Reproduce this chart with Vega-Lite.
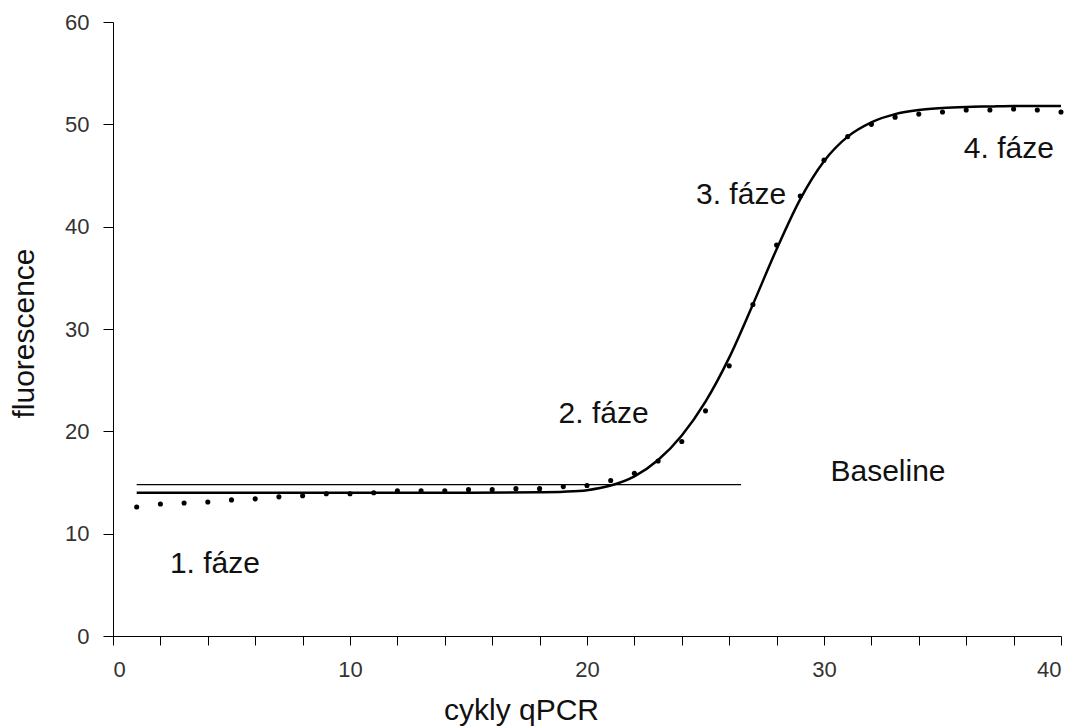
{
  "$schema": "https://vega.github.io/schema/vega-lite/v6.json",
  "autosize": "none",
  "width": 948,
  "height": 614,
  "padding": {"left": 113, "top": 22, "right": 22, "bottom": 90},
  "background": "white",
  "config": {"view": {"stroke": null}, "font": "Liberation Sans"},
  "datasets": {
    "obs": [
      {"cycle": 1, "f": 12.6}, {"cycle": 2, "f": 12.9}, {"cycle": 3, "f": 13.0}, {"cycle": 4, "f": 13.1},
      {"cycle": 5, "f": 13.3}, {"cycle": 6, "f": 13.4}, {"cycle": 7, "f": 13.6}, {"cycle": 8, "f": 13.7},
      {"cycle": 9, "f": 13.9}, {"cycle": 10, "f": 13.9}, {"cycle": 11, "f": 14.0}, {"cycle": 12, "f": 14.2},
      {"cycle": 13, "f": 14.2}, {"cycle": 14, "f": 14.2}, {"cycle": 15, "f": 14.3}, {"cycle": 16, "f": 14.3},
      {"cycle": 17, "f": 14.4}, {"cycle": 18, "f": 14.4}, {"cycle": 19, "f": 14.6}, {"cycle": 20, "f": 14.7},
      {"cycle": 21, "f": 15.2}, {"cycle": 22, "f": 15.9}, {"cycle": 23, "f": 17.1}, {"cycle": 24, "f": 19.0},
      {"cycle": 25, "f": 22.0}, {"cycle": 26, "f": 26.4}, {"cycle": 27, "f": 32.4}, {"cycle": 28, "f": 38.2},
      {"cycle": 29, "f": 43.0}, {"cycle": 30, "f": 46.5}, {"cycle": 31, "f": 48.8}, {"cycle": 32, "f": 50.0},
      {"cycle": 33, "f": 50.7}, {"cycle": 34, "f": 51.0}, {"cycle": 35, "f": 51.2}, {"cycle": 36, "f": 51.4},
      {"cycle": 37, "f": 51.4}, {"cycle": 38, "f": 51.5}, {"cycle": 39, "f": 51.4}, {"cycle": 40, "f": 51.2}
    ],
    "fit": [
      {"cycle": 1, "f": 14.0}, {"cycle": 5, "f": 14.0}, {"cycle": 10, "f": 14.0}, {"cycle": 15, "f": 14.0},
      {"cycle": 18, "f": 14.05}, {"cycle": 19, "f": 14.1}, {"cycle": 20, "f": 14.25}, {"cycle": 21, "f": 14.7},
      {"cycle": 22, "f": 15.6}, {"cycle": 23, "f": 17.2}, {"cycle": 24, "f": 19.6}, {"cycle": 25, "f": 22.9},
      {"cycle": 26, "f": 27.2}, {"cycle": 27, "f": 32.4}, {"cycle": 28, "f": 37.8}, {"cycle": 29, "f": 42.7},
      {"cycle": 30, "f": 46.4}, {"cycle": 31, "f": 48.8}, {"cycle": 32, "f": 50.2}, {"cycle": 33, "f": 51.0},
      {"cycle": 34, "f": 51.4}, {"cycle": 35, "f": 51.6}, {"cycle": 36, "f": 51.7}, {"cycle": 37, "f": 51.75},
      {"cycle": 38, "f": 51.8}, {"cycle": 39, "f": 51.8}, {"cycle": 40, "f": 51.8}
    ],
    "base": [{"x1": 1, "x2": 26.5, "f": 14.8}],
    "labels": [
      {"cycle": 4.3, "f": 7.0, "text": "1. fáze"},
      {"cycle": 20.7, "f": 21.7, "text": "2. fáze"},
      {"cycle": 26.5, "f": 43.1, "text": "3. fáze"},
      {"cycle": 37.8, "f": 47.6, "text": "4. fáze"},
      {"cycle": 32.7, "f": 16.0, "text": "Baseline"}
    ]
  },
  "layer": [
    {
      "data": {"name": "fit"},
      "mark": {"type": "line", "color": "black", "strokeWidth": 2.5, "interpolate": "monotone"},
      "encoding": {
        "x": {
          "field": "cycle", "type": "quantitative",
          "scale": {"domain": [0, 40], "nice": false, "zero": false},
          "axis": {
            "title": "cykly qPCR",
            "values": [0, 2, 4, 6, 8, 10, 12, 14, 16, 18, 20, 22, 24, 26, 28, 30, 32, 34, 36, 38, 40],
            "labelExpr": "datum.value % 10 === 0 ? datum.label : ''",
            "grid": false, "domainColor": "black", "tickColor": "black", "tickSize": 9,
            "labelFont": "Liberation Sans", "labelFontSize": 22, "labelColor": "#333", "labelPadding": 14,
            "titleFont": "Liberation Sans", "titleFontSize": 30, "titleFontWeight": "normal", "titleColor": "#111",
            "titleX": 408, "titleY": 83, "titleAlign": "center", "titleBaseline": "alphabetic"
          }
        },
        "y": {
          "field": "f", "type": "quantitative",
          "scale": {"domain": [0, 60], "nice": false},
          "axis": {
            "title": "fluorescence",
            "values": [0, 10, 20, 30, 40, 50, 60],
            "grid": false, "domainColor": "black", "tickColor": "black", "tickSize": 10,
            "labelFont": "Liberation Sans", "labelFontSize": 22, "labelColor": "#333", "labelPadding": 14,
            "titleFont": "Liberation Sans", "titleFontSize": 30, "titleFontWeight": "normal", "titleColor": "#111",
            "titleX": -80, "titleY": 311, "titleAlign": "center", "titleBaseline": "alphabetic", "titleAngle": -90
          }
        }
      }
    },
    {
      "data": {"name": "obs"},
      "mark": {"type": "point", "shape": "circle", "filled": true, "color": "black", "size": 26, "opacity": 1},
      "encoding": {
        "x": {"field": "cycle", "type": "quantitative"},
        "y": {"field": "f", "type": "quantitative"}
      }
    },
    {
      "data": {"name": "base"},
      "mark": {"type": "rule", "color": "black", "strokeWidth": 1.2},
      "encoding": {
        "x": {"field": "x1", "type": "quantitative"},
        "x2": {"field": "x2"},
        "y": {"field": "f", "type": "quantitative"}
      }
    },
    {
      "data": {"name": "labels"},
      "mark": {"type": "text", "font": "Liberation Sans", "fontSize": 30, "color": "#111", "align": "center", "baseline": "middle"},
      "encoding": {
        "x": {"field": "cycle", "type": "quantitative"},
        "y": {"field": "f", "type": "quantitative"},
        "text": {"field": "text"}
      }
    }
  ]
}
